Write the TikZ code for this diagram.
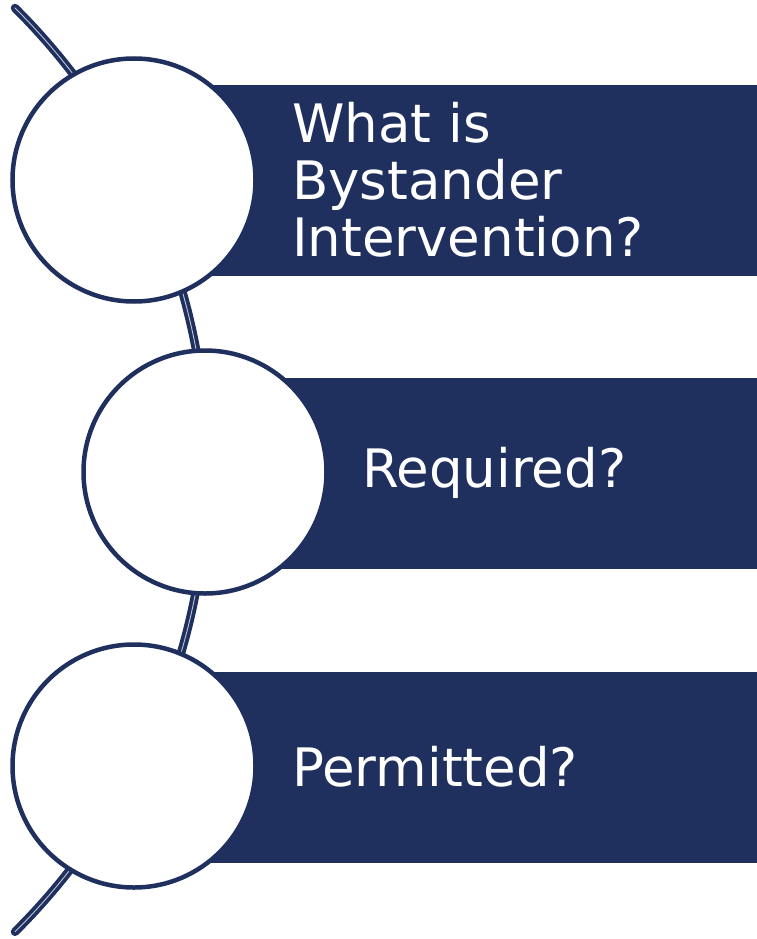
\documentclass[tikz,border=0pt]{standalone}
\usepackage{fontspec}
\setmainfont{DejaVu Sans}
\definecolor{navy}{RGB}{31,48,94}
\definecolor{seam}{RGB}{190,198,214}
\begin{document}
\begin{tikzpicture}[x=1pt,y=-1pt,
  bar/.style={fill=navy, draw=none, minimum width=#1, minimum height=191pt, inner sep=0pt, anchor=west},
  bubble/.style={circle, draw=navy, fill=white, line width=4.5pt, minimum size=243pt, inner sep=0pt},
  label/.style={text=white, anchor=west, inner sep=0pt, align=left,
    font=\fontsize{53}{57}\selectfont},
  spine/.style={draw=navy, line width=3.8pt, double=seam, double distance=0.9pt, line cap=round}]
\useasboundingbox (0,0) rectangle (757,939);

% backbone arc behind the steps
\draw[spine] (15,8) arc[start angle=-45.2, end angle=45.2, radius=651];

% bars
\node[bar=624pt] (b1) at (133,180.5) {};
\node[bar=552pt] (b2) at (205,473.5) {};
\node[bar=624pt] (b3) at (133,767.5) {};

% circles
\node[bubble] (c1) at (134,180) {};
\node[bubble] (c2) at (205,472) {};
\node[bubble] (c3) at (134,766) {};

% captions
\node[label] (t1) at (292,180) {What is\\Bystander\\Intervention?};
\node[label] (t2) at (362,473) {Required?};
\node[label] (t3) at (292,767) {Permitted?};
\end{tikzpicture}
\end{document}
